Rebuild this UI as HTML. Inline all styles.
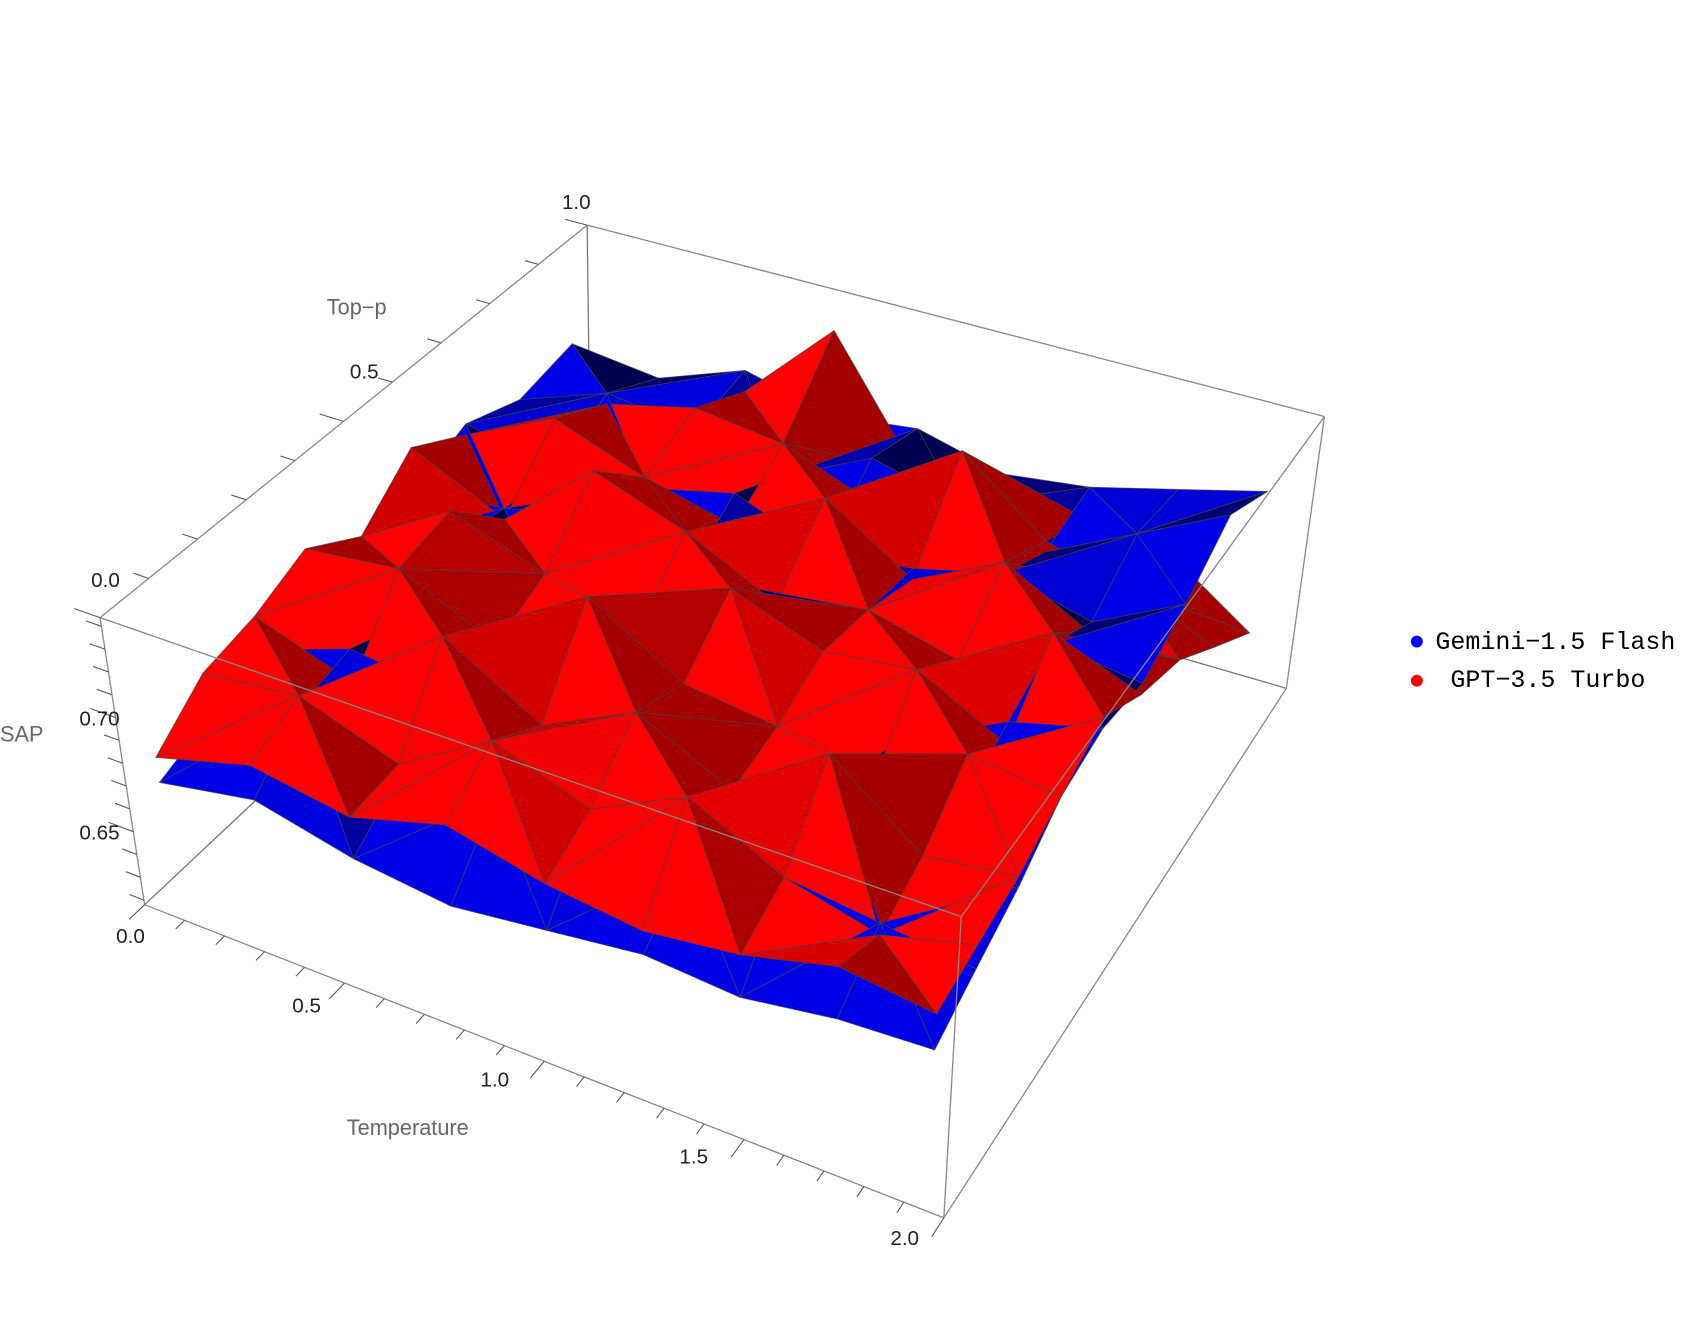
<!DOCTYPE html>
<html><head><meta charset="utf-8"><style>
html,body{margin:0;padding:0;background:#fff;width:1705px;height:1319px;overflow:hidden}
svg text{font-family:"Liberation Sans",sans-serif}
</style></head><body>
<svg id="chart" width="1705" height="1319" viewBox="0 0 1568 1213" xmlns="http://www.w3.org/2000/svg">
<g id="back"></g>
<g id="surf"></g>
<g id="front"></g>
<g id="ticks"></g>
<g font-size="19" fill="#222">
<text x="120" y="867" text-anchor="middle">0.0</text>
<text x="282" y="931" text-anchor="middle">0.5</text>
<text x="455" y="999" text-anchor="middle">1.0</text>
<text x="638" y="1070" text-anchor="middle">1.5</text>
<text x="832" y="1145" text-anchor="middle">2.0</text>
<text x="97" y="540" text-anchor="middle">0.0</text>
<text x="335" y="348" text-anchor="middle">0.5</text>
<text x="530" y="192" text-anchor="middle">1.0</text>
<text x="110" y="667" text-anchor="end">0.70</text>
<text x="110" y="772" text-anchor="end">0.65</text>
</g>
<text x="375" y="1044" font-size="20" fill="#666" text-anchor="middle">Temperature</text>
<text x="328" y="289" font-size="20" fill="#666" text-anchor="middle">Top−p</text>
<text x="20" y="682" font-size="20" fill="#666" text-anchor="middle">SAP</text>
<g font-size="23" fill="#000">
<g><circle cx="1303" cy="590" r="5.5" fill="#0000ff"/><text x="1320" y="597" style="font-family:'Liberation Mono',monospace">Gemini−1.5 Flash</text></g>
<g><circle cx="1303" cy="626" r="5.5" fill="#ff0000"/><text x="1320" y="632" style="font-family:'Liberation Mono',monospace" xml:space="preserve"> GPT−3.5 Turbo</text></g>
</g>
</svg>
<script>
const temps=[0,0.25,0.5,0.75,1,1.25,1.5,1.75,2];
const topps=[0,0.125,0.25,0.375,0.5,0.625,0.75,0.875,1];
const gptSAP=[
[.683,.695,.688,.700,.690,.685,.690,.700,.695],
[.700,.705,.690,.715,.700,.720,.700,.690,.700],
[.705,.690,.725,.700,.720,.700,.730,.700,.705],
[.715,.720,.700,.735,.710,.705,.690,.720,.715],
[.700,.725,.710,.700,.730,.715,.720,.700,.725],
[.720,.700,.735,.720,.700,.710,.700,.725,.710],
[.705,.725,.710,.700,.725,.700,.720,.700,.700],
[.700,.710,.720,.715,.700,.735,.705,.695,.680],
[.690,.700,.705,.745,.690,.700,.690,.685,.660]];
const geminiSAP=[
[.672,.680,.670,.665,.670,.675,.672,.678,.680],
[.680,.700,.685,.690,.700,.690,.700,.695,.690],
[.690,.705,.700,.700,.695,.700,.710,.690,.700],
[.700,.695,.705,.710,.700,.690,.705,.700,.715],
[.695,.710,.700,.705,.715,.700,.690,.710,.720],
[.700,.705,.715,.700,.705,.710,.700,.720,.715],
[.710,.700,.705,.715,.700,.705,.715,.705,.725],
[.700,.715,.710,.700,.720,.710,.700,.720,.740],
[.705,.700,.715,.705,.710,.700,.705,.715,.725]];
const ZMIN=0.618,ZMAX=0.7438;
const NS="http://www.w3.org/2000/svg";
const C={"000":[133,832],"100":[868,1120],"010":[543,447],"110":[1183,633],"001":[92,568],"101":[884,843],"011":[540,207],"111":[1218,383]};
function P(u,v,w){let x=0,y=0;for(const a of[0,1])for(const b of[0,1])for(const c of[0,1]){const f=(a?u:1-u)*(b?v:1-v)*(c?w:1-w);const p=C[""+a+b+c];x+=f*p[0];y+=f*p[1];}return[x,y];}
const sx=t=>0.03+0.94*t/2, sy=p=>0.02+0.9*p, sz=z=>(z-ZMIN)/(ZMAX-ZMIN);
function line(g,a,b,st,w,name){const l=document.createElementNS(NS,"line");l.setAttribute("x1",a[0]);l.setAttribute("y1",a[1]);l.setAttribute("x2",b[0]);l.setAttribute("y2",b[1]);l.setAttribute("stroke",st);l.setAttribute("stroke-width",w);


g.appendChild(l);}
const back=document.getElementById("back"),front=document.getElementById("front"),surf=document.getElementById("surf"),ticks=document.getElementById("ticks");
line(back,P(0,1,1),P(0,1,0),"#777",1.2,"box-edge");line(back,P(0,1,0),P(1,1,0),"#777",1.2,"box-edge");line(back,P(0,1,0),P(0,0,0),"#777",1.2,"box-edge");
const tris=[];
function addSurf(data,col,name){for(let j=0;j<topps.length-1;j++)for(let i=0;i<temps.length-1;i++){
 const q=(jj,ii)=>[sx(temps[ii]),sy(topps[jj]),sz(data[jj][ii])];
 const a=q(j,i),b=q(j,i+1),c=q(j+1,i+1),d=q(j+1,i);
 const diag=((i+j)%2==0);
 const ts=diag?[[a,b,c],[a,c,d]]:[[a,b,d],[b,c,d]];
 for(const t of ts)tris.push({t,col,name});}}
addSurf(geminiSAP,"b","gemini-face");addSurf(gptSAP,"r","gpt-face");
tris.forEach(o=>{const t=o.t;let u=0,v=0,w=0;t.forEach(p=>{u+=p[0];v+=p[1];w+=p[2];});o.d=v/3-0.25*u/3-0.35*w/3;});
tris.sort((a,b)=>b.d-a.d);
const L=[-0.4,-0.5,0.6];const ln=Math.hypot(...L);
tris.forEach(o=>{const[a,b,c]=o.t;const e1=[b[0]-a[0],b[1]-a[1],(b[2]-a[2])*0.8],e2=[c[0]-a[0],c[1]-a[1],(c[2]-a[2])*0.8];
 let n=[e1[1]*e2[2]-e1[2]*e2[1],e1[2]*e2[0]-e1[0]*e2[2],e1[0]*e2[1]-e1[1]*e2[0]];const nl=Math.hypot(...n)||1;n=n.map(x=>x/nl);if(n[2]<0)n=n.map(x=>-x);
 let dt=(n[0]*L[0]+n[1]*L[1]+n[2]*L[2])/ln;let br=Math.max(0,Math.min(1,(dt-0.3)*2.5));
 const fill=o.col=="r"?`rgb(${Math.round(165+90*Math.min(1,br*1.3))},0,0)`:`rgb(0,0,${Math.round(80+150*br)})`;
 const pg=document.createElementNS(NS,"polygon");pg.setAttribute("points",o.t.map(p=>P(p[0],p[1],p[2]).join(",")).join(" "));
 pg.setAttribute("fill",fill);pg.setAttribute("stroke","#444");pg.setAttribute("stroke-width","0.8");pg.setAttribute("stroke-opacity","0.7");pg.setAttribute("stroke-linejoin","round");
 
 
 surf.appendChild(pg);});
[[[0,0,1],[0,0,0]],[[0,0,0],[1,0,0]],[[1,0,0],[1,0,1]],[[0,0,1],[1,0,1]],[[0,0,1],[0,1,1]],[[0,1,1],[1,1,1]],[[1,1,1],[1,1,0]],[[1,1,0],[1,0,0]],[[1,0,1],[1,1,1]]].forEach(e=>line(front,P(...e[0]),P(...e[1]),"#888",1.2,"box-edge"));
for(let k=0;k<=20;k++){const u=k/20,m=k%5==0;line(ticks,P(u,0,0),P(u,m?-0.035:-0.02,0),"#555",1,"temp-tick");}
for(let k=0;k<=10;k++){const v=k/10,m=k%5==0;line(ticks,P(0,v,1),P(m?-0.03:-0.018,v,1),"#555",1,"topp-tick");}
for(let z=0.62;z<=0.741;z+=0.01){const w=sz(z),m=Math.abs((z*100)%5)<0.01||Math.abs((z*100)%5-5)<0.01;line(ticks,P(0,0,w),P(m?-0.03:-0.018,0,w),"#555",1,"sap-tick");}
</script>
</body></html>
